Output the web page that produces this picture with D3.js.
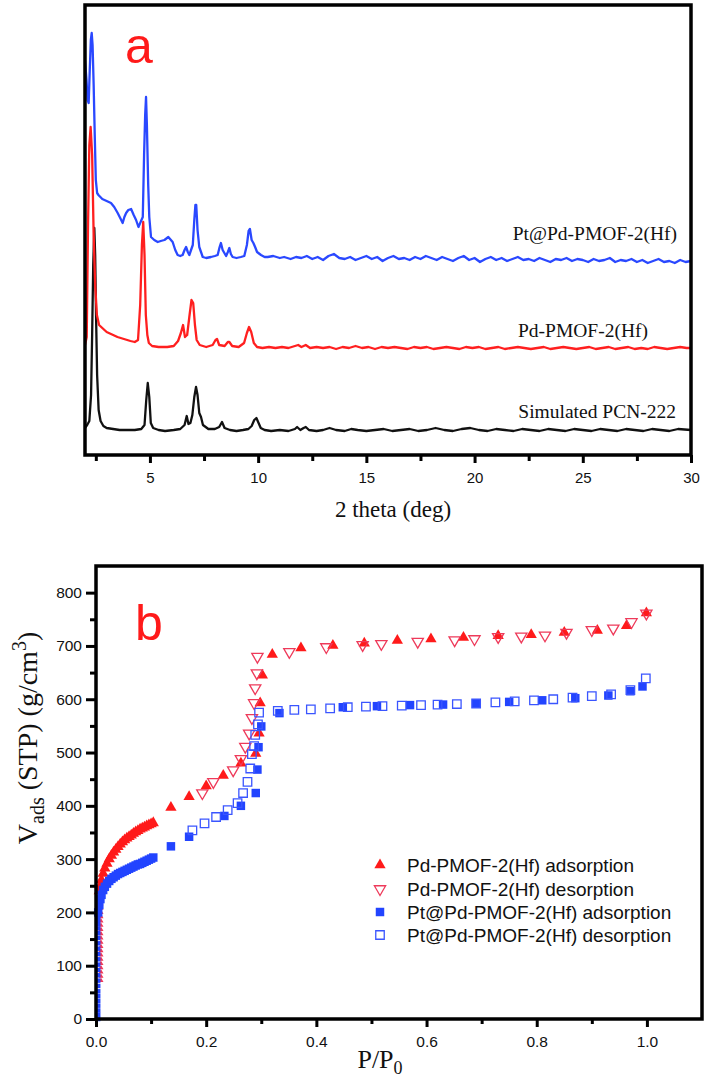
<!DOCTYPE html>
<html><head><meta charset="utf-8">
<script src="https://cdn.jsdelivr.net/npm/d3@7"></script>
<style>body{margin:0;background:#fff}svg{display:block}</style>
</head><body>
<svg id="c" width="709" height="1079"></svg>
<script>
// ---------------- Panel a: XRD patterns (2theta, intensity a.u. incl. offset) ----------------
const xrdTicks = [5, 10, 15, 20, 25, 30];
const xrdMinor = [2.5, 7.5, 12.5, 17.5, 22.5, 27.5];
const xrdNames = ["Pt@Pd-PMOF-2(Hf)", "Pd-PMOF-2(Hf)", "Simulated PCN-222"];

const blueXRD = [[2.0,395],[2.07,375],[2.12,355],[2.17,352],[2.22,385],[2.27,415],[2.31,422],[2.35,410],[2.4,370],[2.45,320],[2.5,275],[2.56,262],[2.62,260],[2.8,256],[3.0,254],[3.2,252],[3.35,248],[3.51,242],[3.65,236],[3.74,232],[3.82,238],[3.9,242],[4.0,245],[4.13,246],[4.25,240],[4.36,235],[4.47,228],[4.57,233],[4.67,238],[4.73,300],[4.78,340],[4.82,358],[4.86,330],[4.92,270],[4.97,238],[5.05,218],[5.2,215],[5.36,213],[5.5,214],[5.67,215],[5.85,218],[6.05,213],[6.17,205],[6.28,200],[6.4,199],[6.51,200],[6.6,205],[6.67,208],[6.75,203],[6.82,200],[6.9,205],[6.98,210],[7.05,235],[7.1,250],[7.14,250],[7.2,225],[7.28,208],[7.36,203],[7.44,198],[7.6,197],[7.82,198],[8.0,199],[8.13,200],[8.22,208],[8.28,212],[8.36,205],[8.44,202],[8.52,199],[8.6,203],[8.67,207],[8.74,201],[8.82,198],[9.0,197],[9.2,198],[9.36,199],[9.48,210],[9.56,224],[9.62,226],[9.7,215],[9.78,212],[9.86,208],[9.95,203],[10.13,200],[10.3,198],[10.44,198],[10.7,199],[11.0,197],[11.2,198],[11.5,196],[11.75,198],[12.0,197],[12.25,199],[12.5,196],[12.75,198],[13.0,195],[13.25,199],[13.5,201],[13.75,197],[14.0,196],[14.25,198],[14.5,195],[14.75,197],[15.0,199],[15.25,196],[15.5,198],[15.75,194],[16.0,197],[16.25,199],[16.5,196],[16.75,197],[17.0,195],[17.25,198],[17.5,196],[17.75,199],[18.0,197],[18.25,195],[18.5,198],[18.75,196],[19.0,194],[19.25,197],[19.5,199],[19.75,195],[20.0,197],[20.25,193],[20.5,196],[20.75,198],[21.0,195],[21.25,197],[21.5,194],[21.75,196],[22.0,198],[22.25,195],[22.5,196],[22.75,194],[23.0,197],[23.25,195],[23.5,193],[23.75,196],[24.0,195],[24.25,197],[24.5,194],[24.75,196],[25.0,195],[25.25,193],[25.5,196],[25.75,194],[26.0,195],[26.25,197],[26.5,193],[26.75,195],[27.0,194],[27.25,196],[27.5,193],[27.75,195],[28.0,192],[28.25,194],[28.5,196],[28.75,193],[29.0,194],[29.25,192],[29.5,195],[29.75,193],[30.0,194]];

const redXRD = [[2.0,110],[2.08,118],[2.14,230],[2.2,310],[2.26,328],[2.33,300],[2.4,220],[2.47,170],[2.55,140],[2.65,130],[2.8,127],[3.0,123],[3.2,121],[3.5,118],[3.8,116],[4.1,114],[4.3,113],[4.45,115],[4.55,150],[4.63,210],[4.69,233],[4.75,200],[4.81,140],[4.88,120],[4.95,112],[5.1,109],[5.4,108],[5.8,108],[6.1,109],[6.3,114],[6.43,122],[6.53,130],[6.62,118],[6.72,120],[6.82,138],[6.92,155],[7.0,152],[7.08,130],[7.16,115],[7.3,110],[7.6,108],[7.9,110],[8.03,115],[8.1,116],[8.2,110],[8.45,109],[8.6,113],[8.67,113],[8.8,109],[9.1,108],[9.35,112],[9.48,122],[9.58,128],[9.68,123],[9.8,112],[9.95,108],[10.2,107],[10.5,108],[10.8,107],[11.1,108],[11.4,107],[11.7,109],[11.85,110],[12.0,108],[12.2,110],[12.4,107],[12.7,108],[13.0,107],[13.3,108],[13.6,106],[13.9,108],[14.2,107],[14.5,109],[14.8,107],[15.1,108],[15.4,106],[15.7,108],[16.0,107],[16.3,108],[16.6,107],[16.9,106],[17.2,108],[17.5,107],[17.8,108],[18.1,106],[18.4,107],[18.7,108],[19.0,107],[19.3,106],[19.6,108],[19.9,107],[20.2,108],[20.5,106],[20.8,107],[21.1,108],[21.4,106],[21.7,107],[22.0,108],[22.3,107],[22.6,106],[22.9,107],[23.2,108],[23.5,106],[23.8,107],[24.1,108],[24.4,107],[24.7,106],[25.0,107],[25.3,108],[25.6,106],[25.9,107],[26.2,108],[26.5,106],[26.8,107],[27.1,108],[27.4,106],[27.7,107],[28.0,106],[28.3,108],[28.6,107],[28.9,106],[29.2,107],[29.5,108],[29.8,107],[30.0,107]];

const blackXRD = [[2.0,27],[2.1,30],[2.2,34],[2.28,60],[2.33,120],[2.38,190],[2.43,227],[2.47,200],[2.51,140],[2.56,80],[2.63,45],[2.72,34],[2.85,29],[3.0,27],[3.3,26],[3.6,25],[4.0,25],[4.3,25],[4.6,26],[4.75,30],[4.83,55],[4.9,72],[4.97,58],[5.04,32],[5.15,27],[5.4,25],[5.7,24],[6.1,25],[6.4,26],[6.6,30],[6.7,39],[6.78,31],[6.87,32],[6.96,40],[7.05,58],[7.13,68],[7.2,60],[7.28,42],[7.36,38],[7.45,30],[7.7,26],[8.0,26],[8.2,28],[8.33,33],[8.45,27],[8.7,25],[9.0,24],[9.3,25],[9.55,26],[9.7,29],[9.82,35],[9.92,37],[10.02,32],[10.12,27],[10.3,25],[10.6,24],[11.0,25],[11.4,24],[11.7,26],[11.8,28],[11.95,25],[12.1,27],[12.2,28],[12.35,25],[12.7,24],[13.0,25],[13.3,27],[13.6,25],[14.0,24],[14.3,26],[14.6,25],[15.0,24],[15.4,25],[15.8,26],[16.2,24],[16.6,25],[17.0,26],[17.4,24],[17.8,25],[18.2,27],[18.6,25],[19.0,24],[19.4,26],[19.8,27],[20.2,25],[20.6,24],[21.0,26],[21.4,25],[21.8,24],[22.2,26],[22.6,25],[23.0,24],[23.4,26],[23.8,25],[24.2,24],[24.6,26],[25.0,25],[25.4,24],[25.8,26],[26.2,25],[26.6,24],[27.0,26],[27.4,25],[27.8,24],[28.2,26],[28.6,25],[29.0,24],[29.4,26],[30.0,25]];

// ---------------- Panel b: N2 isotherms (P/P0, V) ----------------
const isoXTicks = [0, 0.2, 0.4, 0.6, 0.8, 1.0];
const isoXMinor = [0.1, 0.3, 0.5, 0.7, 0.9];
const isoYTicks = [0, 100, 200, 300, 400, 500, 600, 700, 800];
const isoYMinor = [50, 150, 250, 350, 450, 550, 650, 750];
const isoNames = ["Pd-PMOF-2(Hf) adsorption", "Pd-PMOF-2(Hf) desorption", "Pt@Pd-PMOF-2(Hf) adsorption", "Pt@Pd-PMOF-2(Hf) desorption"];

const pdAdsLow = [[0.009,72],[0.009,80],[0.009,88],[0.009,96],[0.009,104],[0.009,112],[0.009,120],[0.009,128],[0.009,136],[0.009,144],[0.009,152],[0.009,160],[0.009,168],[0.009,176],[0.009,184],[0.009,192],[0.009,200],[0.009,208],[0.009,216],[0.009,224],[0.009,232]];
const pdAds = [[0.006,240],[0.008,250],[0.010,261],[0.013,273],[0.016,283],[0.020,292],[0.024,300],[0.028,307],[0.032,313],[0.036,318],[0.040,323],[0.044,328],[0.048,332],[0.052,336],[0.056,339],[0.060,342],[0.064,345],[0.068,348],[0.072,351],[0.076,353],[0.080,356],[0.084,358],[0.088,360],[0.092,362],[0.096,364],[0.100,366],[0.104,368],[0.136,397],[0.169,417],[0.200,437],[0.231,457],[0.263,480],[0.290,498],[0.296,536],[0.298,593],[0.302,645],[0.320,684],[0.372,696],[0.430,701],[0.487,705],[0.547,710],[0.608,713],[0.667,716],[0.730,719],[0.790,721],[0.850,725],[0.910,729],[0.963,738],[0.999,762]];
const pdDes = [[0.193,424],[0.213,445],[0.249,467],[0.263,488],[0.271,511],[0.278,536],[0.283,565],[0.287,593],[0.289,621],[0.292,649],[0.293,680],[0.351,689],[0.418,698],[0.484,702],[0.518,704],[0.584,708],[0.651,711],[0.687,713],[0.730,717],[0.772,718],[0.815,720],[0.854,725],[0.900,730],[0.939,733],[0.972,745],[0.999,761]];
const ptAdsLow = [[0.004,0],[0.004,8],[0.004,16],[0.004,25],[0.004,34],[0.004,43],[0.004,52],[0.004,62],[0.004,72],[0.004,82],[0.004,92],[0.004,102],[0.004,112],[0.004,122],[0.004,132],[0.004,142],[0.004,152],[0.004,161],[0.004,170],[0.004,178],[0.004,186],[0.004,193]];
const ptAds = [[0.004,200],[0.006,214],[0.008,225],[0.010,233],[0.013,242],[0.016,248],[0.020,254],[0.024,259],[0.028,263],[0.032,266],[0.036,269],[0.040,272],[0.044,274],[0.048,276],[0.052,278],[0.056,280],[0.060,282],[0.064,284],[0.068,286],[0.072,288],[0.076,290],[0.080,291],[0.084,293],[0.088,295],[0.092,297],[0.096,299],[0.100,301],[0.104,303],[0.136,324],[0.169,342],[0.233,381],[0.263,400],[0.290,424],[0.293,468],[0.295,510],[0.300,549],[0.333,574],[0.448,585],[0.510,587],[0.570,589],[0.630,590],[0.690,592],[0.750,595],[0.810,598],[0.870,602],[0.930,607],[0.970,615],[0.992,624]];
const ptDes = [[0.175,354],[0.197,367],[0.218,379],[0.239,392],[0.257,405],[0.267,424],[0.275,445],[0.280,470],[0.283,497],[0.287,512],[0.289,533],[0.294,553],[0.296,575],[0.330,578],[0.360,580],[0.390,581],[0.425,583],[0.457,585],[0.490,586],[0.520,587],[0.555,588],[0.590,589],[0.620,590],[0.655,591],[0.690,592],[0.725,594],[0.760,596],[0.795,598],[0.830,600],[0.865,603],[0.900,606],[0.935,609],[0.970,617],[0.998,639]];

const RED = "#ff1a1a", PINK = "#ee3a5a", BLUE = "#2244ff", BLUE2 = "#3a55ff";
const svg = d3.select("#c");
const SERIF = "'Liberation Serif','Times New Roman',serif";
const SANS = "'Liberation Sans',Arial,sans-serif";

// ======== Panel a ========
const xa = d3.scaleLinear().domain([2, 30]).range([85, 691]);
const ya = d3.scaleLinear().domain([0, 450]).range([455, 5]);
svg.append("clipPath").attr("id","ca").append("rect").attr("x",85).attr("y",5).attr("width",606).attr("height",450);
const ga = svg.append("g").attr("clip-path","url(#ca)");
const la = d3.line().x(d => xa(d[0])).y(d => ya(d[1]));
[[blackXRD,"#111"],[redXRD,"#ff1f1f"],[blueXRD,"#2a48ff"]].forEach(([d,c]) => {
  ga.append("path").attr("d", la(d)).attr("fill","none").attr("stroke",c).attr("stroke-width",2.3).attr("stroke-linejoin","round");
});
svg.append("rect").attr("x",85).attr("y",5).attr("width",606).attr("height",450).attr("fill","none").attr("stroke","#000").attr("stroke-width",3.5);
const axA = svg.append("g").attr("transform","translate(0,455)")
  .call(d3.axisBottom(xa).tickValues(xrdTicks).tickSize(8).tickSizeOuter(0).tickPadding(9));
const axAm = svg.append("g").attr("transform","translate(0,455)")
  .call(d3.axisBottom(xa).tickValues(xrdMinor).tickSize(6).tickSizeOuter(0).tickFormat(""));
[axA, axAm].forEach(g => { g.select(".domain").remove(); g.selectAll("line").attr("stroke","#000").attr("stroke-width",3); });
axA.selectAll("text").style("font-family",SANS).style("font-size","15px").attr("fill","#111");
svg.append("text").attr("x",393).attr("y",517).attr("text-anchor","middle").style("font-family",SERIF).style("font-size","23px").attr("fill","#111").text("2 theta (deg)");
const labA = [[677,240],[648,337],[676,418]];
xrdNames.forEach((n,i) => svg.append("text").attr("x",labA[i][0]).attr("y",labA[i][1]).attr("text-anchor","end").style("font-family",SERIF).style("font-size","19.5px").attr("fill","#111").text(n));
svg.append("text").attr("x",125).attr("y",63).style("font-family",SANS).style("font-size","50px").attr("fill","#ff1a1a").text("a");

// ======== Panel b ========
const xb = d3.scaleLinear().domain([0, 1.1]).range([96, 702]);
const yb = d3.scaleLinear().domain([0, 850]).range([1019, 566]);
const gb = svg.append("g");
const tri = d3.symbol().type(d3.symbolTriangle).size(55);
const triSmall = d3.symbol().type(d3.symbolTriangle).size(4);
const sq = d3.symbol().type(d3.symbolSquare).size(72);
const sqSmall = d3.symbol().type(d3.symbolSquare).size(20);
function pts(data, sym, fill, stroke, sw, rot) {
  gb.selectAll(null).data(data).enter().append("path")
    .attr("d", sym)
    .attr("transform", d => `translate(${xb(d[0])},${yb(d[1])})` + (rot ? " rotate(180)" : ""))
    .attr("fill", fill).attr("stroke", stroke).attr("stroke-width", sw);
}
pts(pdAdsLow, triSmall, PINK, PINK, 1.2, false);
pts(ptAdsLow, sqSmall, BLUE, "none", 0, false);
pts(pdAds, tri, RED, "none", 0, false);
pts(pdDes, tri, "none", PINK, 1.3, true);
pts(ptAds, sq, BLUE, "none", 0, false);
pts(ptDes, sq, "none", BLUE2, 1.3, false);

svg.append("rect").attr("x",96).attr("y",566).attr("width",606).attr("height",453).attr("fill","none").attr("stroke","#000").attr("stroke-width",3.5);
const axBx = svg.append("g").attr("transform","translate(0,1019)")
  .call(d3.axisBottom(xb).tickValues(isoXTicks).tickSize(8).tickSizeOuter(0).tickPadding(9).tickFormat(d3.format(".1f")));
const axBxm = svg.append("g").attr("transform","translate(0,1019)")
  .call(d3.axisBottom(xb).tickValues(isoXMinor).tickSize(5).tickSizeOuter(0).tickFormat(""));
const axBy = svg.append("g").attr("transform","translate(96,0)")
  .call(d3.axisLeft(yb).tickValues(isoYTicks).tickSize(10).tickSizeOuter(0).tickPadding(4));
const axBym = svg.append("g").attr("transform","translate(96,0)")
  .call(d3.axisLeft(yb).tickValues(isoYMinor).tickSize(6).tickSizeOuter(0).tickFormat(""));
[axBx, axBxm, axBy, axBym].forEach(g => { g.select(".domain").remove(); g.selectAll("line").attr("stroke","#000").attr("stroke-width",3); });
[axBx, axBy].forEach(g => g.selectAll("text").style("font-family",SANS).style("font-size","15.5px").attr("fill","#111"));

const px = svg.append("text").attr("x",380).attr("y",1068).attr("text-anchor","middle").style("font-family",SERIF).style("font-size","26px").attr("fill","#111");
px.append("tspan").text("P/P");
px.append("tspan").attr("dy",6).style("font-size","18px").text("0");

const yl = svg.append("text").attr("transform","translate(37,738) rotate(-90)").attr("text-anchor","middle").style("font-family",SERIF).style("font-size","28px").attr("fill","#111");
yl.append("tspan").text("V");
yl.append("tspan").attr("dy",7).style("font-size","20px").text("ads");
yl.append("tspan").attr("dy",-7).text(" (STP) (g/cm");
yl.append("tspan").attr("dy",-11).style("font-size","20px").text("3");
yl.append("tspan").attr("dy",11).text(")");

svg.append("text").attr("x",135).attr("y",640).style("font-family",SANS).style("font-size","50px").attr("fill","#ff1a1a").text("b");

// legend
const legY = [865, 889, 912, 935];
const legSym = [[tri,RED,"none",0,false],[tri,"none",PINK,1.3,true],[sq,BLUE,"none",0,false],[sq,"none",BLUE2,1.3,false]];
isoNames.forEach((n,i) => {
  const s = legSym[i];
  svg.append("path").attr("d", s[0]).attr("transform",`translate(380,${legY[i]})` + (s[4]?" rotate(180)":""))
    .attr("fill",s[1]).attr("stroke",s[2]).attr("stroke-width",s[3]);
  svg.append("text").attr("x",407).attr("y",legY[i]).attr("dy","0.36em").style("font-family",SANS).style("font-size","19px").attr("fill","#111").text(n);
});
</script>
</body></html>
